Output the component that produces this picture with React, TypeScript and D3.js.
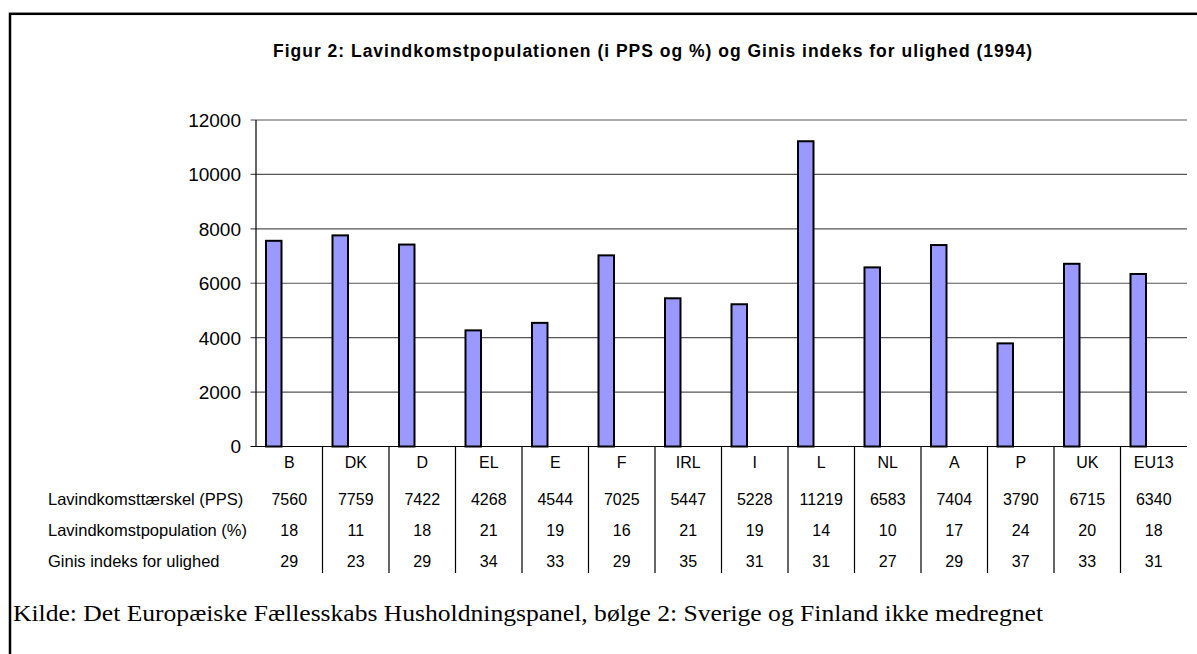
import React from "react";
import * as d3 from "d3";

const categories = ["B", "DK", "D", "EL", "E", "F", "IRL", "I", "L", "NL", "A", "P", "UK", "EU13"];
const thresholdPPS = [7560, 7759, 7422, 4268, 4544, 7025, 5447, 5228, 11219, 6583, 7404, 3790, 6715, 6340];
const lowIncomePct = [18, 11, 18, 21, 19, 16, 21, 19, 14, 10, 17, 24, 20, 18];
const giniIndex = [29, 23, 29, 34, 33, 29, 35, 31, 31, 27, 29, 37, 33, 31];
const yTicks = [0, 2000, 4000, 6000, 8000, 10000, 12000];
const rowLabels = ["Lavindkomsttærskel (PPS)", "Lavindkomstpopulation (%)", "Ginis indeks for ulighed"];
const seriesKeys = ["pps", "pop", "gini"];

const title = "Figur 2: Lavindkomstpopulationen (i PPS og %) og Ginis indeks for ulighed (1994)";
const source = "Kilde: Det Europæiske Fællesskabs Husholdningspanel, bølge 2: Sverige og Finland ikke medregnet";

export default function App() {
  const W = 1197, H = 654;
  const left = 256, right = 1187, top = 120, bottom = 446.5;
  const x = d3.scaleBand<string>().domain(categories).range([left, right]).padding(0);
  const bw = x.bandwidth();
  const xs = d3.scaleBand<string>().domain(seriesKeys).range([0, bw]).paddingInner(0).paddingOuter(0.645);
  const y = d3.scaleLinear().domain([0, 12000]).range([bottom, top]);
  const rows = [thresholdPPS, lowIncomePct, giniIndex];
  const rowY = [499, 530, 561];
  const sans = "Arial, 'Liberation Sans', sans-serif";

  return (
    <svg width={W} height={H} style={{ position: "absolute", left: 0, top: 0, background: "#fff" }}>
      <rect x={0} y={0} width={W} height={H} fill="#fff" />
      <rect x={10} y={13.8} width={W + 50} height={H + 50} fill="none" stroke="#000" strokeWidth={2.5} />
      <text x={652.5} y={57} textAnchor="middle" fontFamily={sans} fontWeight="bold" fontSize={17.5}
        textLength={759} lengthAdjust="spacing">{title}</text>

      {/* gridlines and ticks */}
      {yTicks.map((t) => (
        <g key={t}>
          <line x1={left - 5.5} x2={right} y1={y(t)} y2={y(t)} stroke={t === 0 ? "#000" : "#555"} strokeWidth={1.2} />
          <text x={241} y={y(t)} dy="0.36em" textAnchor="end" fontFamily={sans} fontSize={19}>{t}</text>
        </g>
      ))}
      <line x1={left} x2={left} y1={top} y2={bottom} stroke="#000" strokeWidth={1.2} />

      {/* bars */}
      {categories.map((c, i) => (
        <rect key={c} x={(x(c) as number) + (xs("pps") as number)} y={y(thresholdPPS[i])}
          width={xs.bandwidth()} height={bottom - y(thresholdPPS[i])}
          fill="#9999FF" stroke="#000" strokeWidth={2} />
      ))}

      {/* table separators */}
      {categories.slice(1).map((c) => (
        <line key={c} x1={x(c) as number} x2={x(c) as number} y1={bottom} y2={573} stroke="#000" strokeWidth={1.2} />
      ))}

      {/* category labels */}
      {categories.map((c) => (
        <text key={c} x={(x(c) as number) + bw / 2} y={462.5} dy="0.36em" textAnchor="middle" fontFamily={sans} fontSize={16}>{c}</text>
      ))}

      {/* table rows */}
      {rows.map((r, ri) => (
        <g key={ri}>
          <text x={48} y={rowY[ri]} dy="0.36em" fontFamily={sans} fontSize={16.5}>{rowLabels[ri]}</text>
          {r.map((v, i) => (
            <text key={i} x={(x(categories[i]) as number) + bw / 2} y={rowY[ri]} dy="0.36em" textAnchor="middle"
              fontFamily={sans} fontSize={16}>{v}</text>
          ))}
        </g>
      ))}

      <text x={13} y={621} fontFamily="'Liberation Serif', 'Times New Roman', serif" fontSize={23}
        textLength={1030} lengthAdjust="spacingAndGlyphs">{source}</text>
    </svg>
  );
}
